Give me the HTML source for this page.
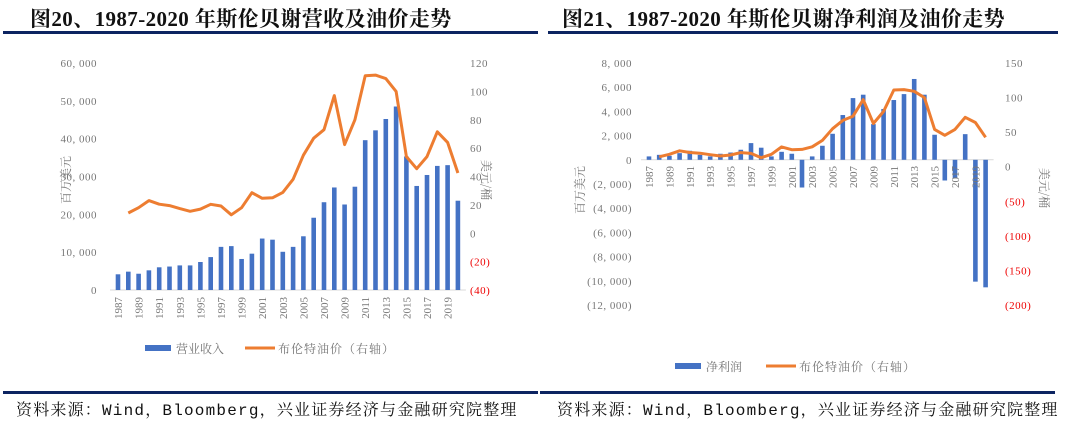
<!DOCTYPE html>
<html><head><meta charset="utf-8">
<style>
body{margin:0;width:1080px;height:422px;background:#fff;overflow:hidden;position:relative;font-family:"Liberation Serif","Noto Serif CJK SC",serif;}
.title{position:absolute;top:3px;font-size:21px;font-weight:bold;color:#111;white-space:nowrap;letter-spacing:0.4px}
.src{position:absolute;top:397px;font-size:16px;color:#111;white-space:nowrap;font-family:"Liberation Mono","Noto Serif CJK SC",monospace;letter-spacing:1.2px}
.rule{position:absolute;height:3px;background:#0c2461}
svg{position:absolute;left:0;top:0}
</style></head><body>
<div class="title" style="left:30px">图20、1987-2020 年斯伦贝谢营收及油价走势</div>
<div class="title" style="left:562px">图21、1987-2020 年斯伦贝谢净利润及油价走势</div>
<div class="rule" style="left:3px;top:31px;width:535px"></div>
<div class="rule" style="left:548px;top:31px;width:510px"></div>
<div class="rule" style="left:3px;top:391px;width:535px"></div>
<div class="rule" style="left:540px;top:391px;width:515px"></div>
<div class="src" style="left:16px">资料来源：Wind，Bloomberg，兴业证券经济与金融研究院整理</div>
<div class="src" style="left:557px">资料来源：Wind，Bloomberg，兴业证券经济与金融研究院整理</div>
<svg id="chart" width="1080" height="422"></svg>
<script>
const years = [];
for (let y = 1987; y <= 2020; y++) years.push(y);
const revenue = [4150,4850,4300,5200,6000,6200,6500,6500,7400,8700,11400,11600,8200,9600,13600,13300,10100,11400,14200,19100,23200,27100,22600,27300,39600,42200,45200,48500,35300,27500,30400,32800,33000,23600];
const netIncome = [280,410,330,550,745,410,280,500,600,830,1380,1000,280,660,500,-2290,280,1160,2150,3700,5100,5380,2950,4200,4940,5430,6680,5380,2070,-1710,-1520,2120,-10070,-10540];
const oilYears = years.slice(1);
const oil = [14.3,18,23,20.5,19.5,17.4,15.5,17,20.4,19.2,13,18,28.6,24.6,25,28.8,38,55,67,73,97,62.5,80,111,111.5,109,100,54,45.5,54,71.5,64,42.5];
const leftTicks = [0,10000,20000,30000,40000,50000,60000];
const leftRTicks = [-40,-20,0,20,40,60,80,100,120];
const rightTicks = [-12000,-10000,-8000,-6000,-4000,-2000,0,2000,4000,6000,8000];
const rightRTicks = [-200,-150,-100,-50,0,50,100,150];

const NS = "http://www.w3.org/2000/svg";
const svg = document.getElementById('chart');
function el(tag, attrs, text){const e=document.createElementNS(NS,tag);for(const k in attrs)e.setAttribute(k,attrs[k]);if(text!==undefined)e.textContent=text;svg.appendChild(e);return e;}
function fmt(v){const s=Math.abs(v).toLocaleString('en-US').replace(/,/g,', ');return v<0?'('+s+')':s;}
const BLUE='#4472c4', ORANGE='#ed7d31', GREY='#777';

function drawChart(o){
  const yL=v=>o.y0+(v-o.lmin)/(o.lmax-o.lmin)*(o.y1-o.y0);
  const yR=v=>o.y0+(v-o.rmin)/(o.rmax-o.rmin)*(o.y1-o.y0);
  const xC=i=>o.x0+i*o.step;
  let a=el('line',{x1:o.x0-8,x2:xC(years.length-1)+8,y1:yL(0),y2:yL(0),stroke:'#d9d9d9','stroke-width':1});
  
  
  o.lt.forEach(v=>{const t=el('text',{x:o.lx,y:yL(v)+4,'text-anchor':'end','font-size':11,fill:GREY,'letter-spacing':'0.5'},fmt(v));
    
    });
  o.rt.forEach(v=>{const t=el('text',{x:o.rx,y:yR(v)+4,'text-anchor':o.ranchor,'font-size':11,fill:v<0?'#e00':GREY,'letter-spacing':'0.5'},fmt(v));
    
    });
  o.vals.forEach((v,i)=>{const yt=Math.min(yL(v),yL(0)),h=Math.abs(yL(v)-yL(0));
    const r=el('rect',{x:xC(i)-2.3,y:yt,width:4.6,height:h,fill:BLUE});
    
    });
  years.forEach((y,i)=>{if(i%2)return;const x=xC(i)+4,yy=o.labY;
    const t=el('text',{x:x,y:yy,transform:`rotate(-90 ${x} ${yy})`,'text-anchor':'end','font-size':11,fill:GREY},String(y));
    
    });
  const pts=oil.map((v,i)=>xC(years.indexOf(oilYears[i])).toFixed(1)+','+yR(v).toFixed(1)).join(' ');
  const pl=el('polyline',{points:pts,fill:'none',stroke:ORANGE,'stroke-width':3,'stroke-linejoin':'round'});
  
  
  let t1=el('text',{x:o.ytx,y:o.yty,transform:`rotate(-90 ${o.ytx} ${o.yty})`,'text-anchor':'middle','font-size':12,fill:GREY,'font-family':'"Noto Serif CJK SC",serif'},'百万美元');
  
  
  let t2=el('text',{x:o.rtx,y:o.rty,transform:`rotate(90 ${o.rtx} ${o.rty})`,'text-anchor':'middle','font-size':12,fill:GREY,'font-family':'"Noto Serif CJK SC",serif'},'美元/桶');
  
  
  let lb=el('rect',{x:o.lgx,y:o.lgy-3,width:26,height:6,fill:BLUE});
  
  
  let lt=el('text',{x:o.lgx+31,y:o.lgy+5,'font-size':12,fill:GREY,'font-family':'"Noto Serif CJK SC",serif'},o.name);
  
  
  let ll=el('line',{x1:o.lgx2,x2:o.lgx2+30,y1:o.lgy,y2:o.lgy,stroke:ORANGE,'stroke-width':3});
  
  
  let lt2=el('text',{x:o.lgx2+33,y:o.lgy+5,'font-size':12,fill:GREY,'font-family':'"Noto Serif CJK SC",serif','letter-spacing':'1'},'布伦特油价（右轴）');
  
  
}
drawChart({p:'left',vals:revenue,name:'营业收入',x0:118,step:10.3,y0:290,y1:63,lmin:0,lmax:60000,rmin:-40,rmax:120,
  lt:leftTicks,rt:leftRTicks,lx:97,rx:470,ranchor:'start',labY:297,ytx:70,yty:180,rtx:482,rty:180,lgx:145,lgy:348,lgx2:245});
drawChart({p:'right',vals:netIncome,name:'净利润',x0:649,step:10.2,y0:305,y1:63,lmin:-12000,lmax:8000,rmin:-200,rmax:150,
  lt:rightTicks,rt:rightRTicks,lx:632,rx:1005,ranchor:'start',labY:166,ytx:584,yty:190,rtx:1040,rty:188,lgx:675,lgy:366,lgx2:766});
</script>
</body></html>
